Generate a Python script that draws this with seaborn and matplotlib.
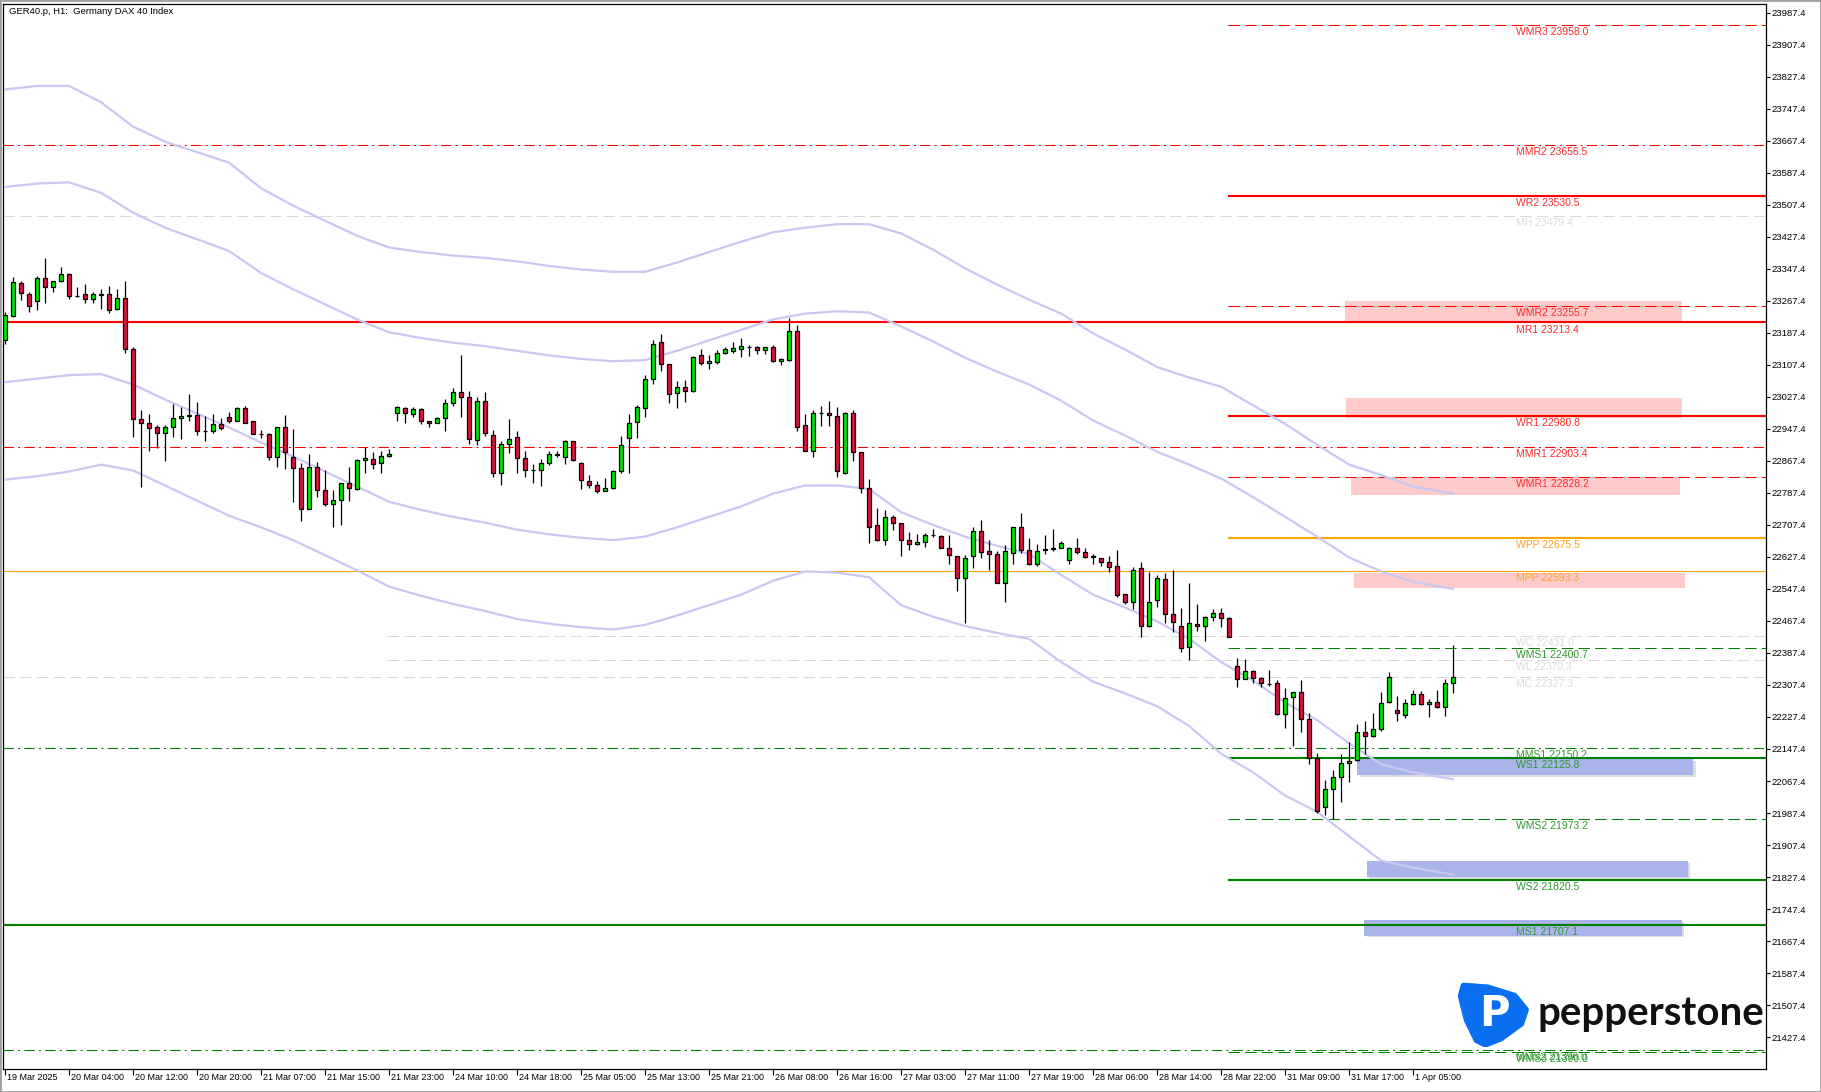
import numpy as np
import matplotlib
matplotlib.use("Agg")
import matplotlib.pyplot as plt
import matplotlib.transforms as mtrans
from matplotlib.patches import Rectangle, Polygon
import seaborn as sns

sns.set_style("white")
plt.rcParams["font.family"] = ["Liberation Sans", "DejaVu Sans"]

# hourly candles GER40
opens = [23170, 23230, 23311, 23284, 23268, 23324, 23301, 23316, 23334, 23280,
         23285, 23271, 23284, 23284, 23246, 23274, 23146, 22973, 22963, 22951,
         22936, 22951, 22975, 22980, 22982, 22942, 22941, 22960, 22976, 22968,
         22999, 22966, 22935, 22935, 22876, 22951, 22878, 22849, 22746, 22851,
         22795, 22759, 22770, 22811, 22796, 22869, 22871, 22861, 22880, 22986,
         22999, 22985, 22996, 22966, 22961, 22974, 23013, 23039, 23026, 22920,
         23016, 22932, 22838, 22909, 22926, 22874, 22845, 22845, 22861, 22883,
         22876, 22916, 22863, 22818, 22806, 22792, 22799, 22841, 22925, 22964,
         22999, 23071, 23164, 23109, 23036, 23051, 23042, 23131, 23111, 23114,
         23136, 23142, 23146, 23153, 23151, 23145, 23151, 23116, 23120, 23193,
         22956, 22893, 22986, 22986, 22980, 22838, 22986, 22889, 22799, 22706,
         22670, 22726, 22711, 22670, 22659, 22664, 22682, 22680, 22651, 22630,
         22574, 22630, 22692, 22642, 22634, 22563, 22638, 22703, 22646, 22609,
         22645, 22648, 22651, 22621, 22651, 22639, 22629, 22624, 22614, 22605,
         22534, 22516, 22599, 22456, 22520, 22572, 22485, 22455, 22402, 22460,
         22455, 22477, 22488, 22474, 22356, 22322, 22342, 22324, 22311, 22312,
         22234, 22277, 22289, 22222, 22126, 22002, 22047, 22078, 22112, 22120,
         22191, 22181, 22197, 22264, 22244, 22232, 22259, 22284, 22260, 22266,
         22252, 22312]
highs = [23240, 23326, 23317, 23290, 23330, 23374, 23318, 23351, 23336, 23303,
         23310, 23289, 23296, 23305, 23296, 23317, 23153, 22995, 22985, 22957,
         22957, 23010, 23003, 23035, 23015, 22980, 22985, 22974, 22990, 23001,
         23005, 22966, 22945, 22936, 22953, 22982, 22946, 22861, 22885, 22865,
         22845, 22795, 22813, 22851, 22871, 22901, 22890, 22891, 22897, 23005,
         23003, 23001, 22999, 22966, 22978, 23022, 23049, 23132, 23042, 23028,
         23039, 22945, 22916, 22972, 22941, 22891, 22860, 22871, 22893, 22891,
         22920, 22917, 22865, 22832, 22816, 22824, 22845, 22930, 22985, 23006,
         23081, 23170, 23185, 23110, 23066, 23070, 23130, 23146, 23132, 23145,
         23151, 23164, 23174, 23157, 23155, 23153, 23157, 23124, 23224, 23207,
         22985, 22995, 23005, 23017, 23001, 22989, 22995, 22890, 22821, 22749,
         22745, 22732, 22712, 22689, 22684, 22686, 22698, 22681, 22681, 22631,
         22632, 22703, 22720, 22670, 22643, 22657, 22703, 22738, 22676, 22659,
         22682, 22696, 22668, 22653, 22676, 22649, 22636, 22626, 22630, 22646,
         22535, 22603, 22616, 22591, 22582, 22588, 22595, 22499, 22562, 22510,
         22480, 22497, 22499, 22477, 22376, 22372, 22345, 22327, 22345, 22320,
         22299, 22291, 22320, 22237, 22138, 22070, 22095, 22135, 22164, 22210,
         22217, 22237, 22289, 22340, 22280, 22272, 22295, 22292, 22272, 22295,
         22322, 22407]
lows = [23160, 23228, 23270, 23240, 23245, 23261, 23290, 23315, 23273, 23278,
        23261, 23263, 23247, 23238, 23245, 23138, 22928, 22803, 22891, 22899,
        22866, 22928, 22923, 22966, 22932, 22917, 22938, 22945, 22961, 22966,
        22961, 22934, 22924, 22870, 22853, 22846, 22764, 22718, 22746, 22778,
        22755, 22703, 22707, 22768, 22795, 22838, 22847, 22838, 22878, 22966,
        22963, 22978, 22959, 22951, 22961, 22943, 23005, 22978, 22910, 22907,
        22930, 22826, 22807, 22886, 22838, 22828, 22813, 22805, 22856, 22878,
        22860, 22868, 22796, 22799, 22788, 22791, 22796, 22838, 22836, 22924,
        22976, 23060, 23093, 23013, 22999, 23014, 23040, 23106, 23096, 23109,
        23135, 23138, 23128, 23130, 23135, 23135, 23115, 23107, 23118, 22941,
        22891, 22878, 22955, 22955, 22826, 22834, 22866, 22786, 22663, 22668,
        22657, 22695, 22631, 22645, 22658, 22653, 22678, 22649, 22611, 22543,
        22462, 22599, 22624, 22596, 22562, 22516, 22611, 22638, 22607, 22606,
        22636, 22642, 22649, 22610, 22636, 22626, 22611, 22606, 22591, 22528,
        22510, 22497, 22428, 22453, 22502, 22462, 22441, 22391, 22370, 22443,
        22418, 22468, 22453, 22428, 22303, 22322, 22313, 22303, 22305, 22232,
        22199, 22156, 22191, 22109, 21988, 21983, 21972, 22016, 22066, 22118,
        22135, 22178, 22193, 22263, 22218, 22224, 22257, 22257, 22228, 22249,
        22230, 22288]
closes = [23232, 23314, 23286, 23255, 23324, 23301, 23316, 23334, 23280, 23279,
          23271, 23284, 23283, 23245, 23274, 23146, 22973, 22963, 22949, 22936,
          22951, 22974, 22980, 22981, 22941, 22941, 22960, 22949, 22968, 22999,
          22963, 22935, 22934, 22876, 22951, 22889, 22849, 22746, 22851, 22795,
          22759, 22770, 22811, 22799, 22870, 22875, 22859, 22880, 22885, 23001,
          22986, 22996, 22966, 22961, 22974, 23011, 23039, 23028, 22921, 23016,
          22936, 22838, 22909, 22921, 22874, 22845, 22844, 22861, 22884, 22884,
          22916, 22870, 22820, 22807, 22791, 22799, 22841, 22906, 22961, 23001,
          23071, 23160, 23109, 23034, 23051, 23041, 23128, 23111, 23117, 23136,
          23146, 23149, 23155, 23152, 23145, 23151, 23116, 23121, 23193, 22953,
          22893, 22986, 22987, 22981, 22841, 22986, 22889, 22799, 22703, 22670,
          22728, 22711, 22670, 22659, 22664, 22681, 22683, 22651, 22632, 22576,
          22626, 22692, 22641, 22634, 22563, 22642, 22701, 22646, 22609, 22643,
          22647, 22649, 22663, 22651, 22639, 22628, 22628, 22614, 22603, 22532,
          22516, 22595, 22456, 22516, 22574, 22485, 22466, 22399, 22462, 22455,
          22478, 22488, 22474, 22428, 22322, 22342, 22324, 22312, 22310, 22234,
          22274, 22289, 22222, 22126, 21993, 22047, 22078, 22112, 22117, 22191,
          22181, 22197, 22263, 22327, 22237, 22262, 22284, 22259, 22266, 22252,
          22312, 22328]

# bands (two upper, two lower), read every 4 bars
band_idx = [0, 4, 8, 12, 16, 20, 24, 28, 32, 36, 40, 44, 48, 52, 56, 60, 64, 68,
            72, 76, 80, 84, 88, 92, 96, 100, 104, 108, 112, 116, 120, 124, 128,
            132, 136, 140, 144, 148, 152, 156, 160, 164, 168, 172, 176, 181]
band_up2 = [23795.8, 23804.5, 23804.5, 23763.9, 23702.9, 23665.2, 23639.1, 23612.9,
            23549.1, 23505.5, 23467.8, 23430.1, 23401.0, 23389.4, 23380.7, 23374.9,
            23366.2, 23354.6, 23345.9, 23340.1, 23340.1, 23363.3, 23389.4, 23415.5,
            23438.8, 23450.4, 23459.1, 23459.1, 23435.9, 23395.2, 23348.8, 23308.1,
            23270.4, 23235.6, 23186.2, 23145.6, 23102.1, 23075.9, 23052.7, 23006.3,
            22959.8, 22907.6, 22858.2, 22832.1, 22803.1, 22785.6]
band_up1 = [23552.0, 23560.7, 23563.6, 23537.5, 23488.1, 23450.4, 23421.4, 23392.3,
            23337.2, 23296.5, 23258.8, 23221.1, 23189.1, 23174.6, 23163.0, 23154.3,
            23142.7, 23131.1, 23122.4, 23116.6, 23119.5, 23142.7, 23168.8, 23194.9,
            23221.1, 23235.6, 23241.4, 23238.5, 23203.6, 23165.9, 23125.3, 23090.4,
            23058.5, 23017.9, 22968.5, 22930.8, 22890.1, 22858.2, 22823.4, 22776.9,
            22727.6, 22678.2, 22626.0, 22591.2, 22565.0, 22547.6]
band_lo1 = [23064.3, 23073.0, 23081.7, 23084.6, 23058.5, 23020.8, 22985.9, 22951.1,
            22913.4, 22878.5, 22840.8, 22803.1, 22765.3, 22745.0, 22727.6, 22713.1,
            22695.7, 22684.0, 22675.3, 22669.5, 22678.2, 22701.5, 22727.6, 22753.7,
            22785.6, 22806.0, 22806.0, 22797.3, 22739.2, 22707.3, 22678.2, 22655.0,
            22634.7, 22582.4, 22533.1, 22501.2, 22466.3, 22422.8, 22364.7, 22318.3,
            22263.1, 22219.6, 22161.5, 22109.3, 22089.0, 22071.6]
band_lo2 = [22820.5, 22829.2, 22840.8, 22858.2, 22843.7, 22806.0, 22768.2, 22730.5,
            22701.5, 22669.5, 22631.8, 22594.1, 22553.4, 22530.2, 22509.9, 22492.5,
            22472.1, 22460.5, 22451.8, 22446.0, 22457.6, 22480.9, 22507.0, 22533.1,
            22567.9, 22591.2, 22588.3, 22576.6, 22507.0, 22477.9, 22454.7, 22437.3,
            22422.8, 22364.7, 22315.4, 22286.4, 22254.4, 22205.1, 22135.4, 22089.0,
            22030.9, 21990.3, 21929.3, 21868.4, 21850.9, 21833.5]

x_tick_pos = list(range(0, 177, 8))
x_tick_labels = ["19 Mar 2025", "20 Mar 04:00", "20 Mar 12:00", "20 Mar 20:00",
                 "21 Mar 07:00", "21 Mar 15:00", "21 Mar 23:00", "24 Mar 10:00",
                 "24 Mar 18:00", "25 Mar 05:00", "25 Mar 13:00", "25 Mar 21:00",
                 "26 Mar 08:00", "26 Mar 16:00", "27 Mar 03:00", "27 Mar 11:00",
                 "27 Mar 19:00", "28 Mar 06:00", "28 Mar 14:00", "28 Mar 22:00",
                 "31 Mar 09:00", "31 Mar 17:00", "1 Apr 05:00"]
y_ticks = [23987.4 - 80 * k for k in range(33)]

# pivot levels
level_names = ["WMR3", "MMR2", "WR2", "MH", "WMR2", "MR1", "WR1", "MMR1", "WMR1",
               "WPP", "MPP", "WC", "WMS1", "WL", "MC", "MMS1", "WS1", "WMS2",
               "WS2", "MS1", "MMS2", "WMS3"]
level_values = [23958.0, 23656.5, 23530.5, 23479.4, 23255.7, 23213.4, 22980.8,
                22903.4, 22828.2, 22675.5, 22593.3, 22431.0, 22400.7, 22370.3,
                22327.3, 22150.2, 22125.8, 21973.2, 21820.5, 21707.1, 21396.0,
                21390.0]
level_kind = ["r_dash", "r_dashdot", "r_solid", "gray", "r_dash", "r_solid", "r_solid",
              "r_dashdot", "r_dash", "o_solid", "o_thin", "gray", "g_dash", "gray",
              "gray", "g_dashdot", "g_solid", "g_dash", "g_solid", "g_solid",
              "g_dashdot", "g_dash"]
# where each line starts: "m" = whole chart, "pw" = previous week, "w" = this week
level_span = ["w", "m", "w", "m", "w", "m", "w", "m", "w", "w", "m", "pw", "w", "pw",
              "m", "m", "w", "w", "w", "m", "m", "w"]

# zones: (x0, x1, y0, y1)
pink_zones = [(167.5, 209.6, 23217.1, 23267.1), (167.6, 209.6, 22973.9, 23025.4),
              (168.2, 209.4, 22782.2, 22826.4), (168.6, 210.0, 22549.8, 22588.0)]
blue_zones = [(169.0, 211.0, 22082.0, 22122.0), (170.2, 210.3, 21827.7, 21866.9),
              (169.9, 209.6, 21680.8, 21720.0)]

RED = "#ff0000"
ORANGE = "#ffa500"
GREEN = "#008000"
GRAY = "#d8d8d8"
styles = {
    "r_dash": dict(color=RED, lw=0.75, dashes=(11, 5)),
    "r_dashdot": dict(color=RED, lw=0.75, dashes=(10, 4, 2, 4)),
    "r_solid": dict(color=RED, lw=1.5),
    "o_solid": dict(color=ORANGE, lw=1.5),
    "o_thin": dict(color=ORANGE, lw=0.75),
    "g_dash": dict(color=GREEN, lw=0.75, dashes=(11, 5)),
    "g_dashdot": dict(color=GREEN, lw=0.75, dashes=(10, 4, 2, 4)),
    "g_solid": dict(color=GREEN, lw=1.5),
    "gray": dict(color=GRAY, lw=0.75, dashes=(11, 5)),
}
label_colors = {"r": "#ff2a2a", "o": "#ffa020", "g": "#2e9a2e", "gray": "#dcdcdc"}

W, H = 1821, 1092
fig = plt.figure(figsize=(W / 100, H / 100), dpi=100)
ax = fig.add_axes([3 / W, 1 - 1069 / H, (1766 - 3) / W, (1069 - 4) / H])
XMIN, XMAX = -0.25, 220.1
ax.set_xlim(XMIN, XMAX)
ax.set_ylim(21347.6, 24009.4)

# zones behind everything
for x0, x1, y0, y1 in pink_zones:
    ax.add_patch(Rectangle((x0, y0), x1 - x0, y1 - y0, facecolor="#ffcaca",
                           edgecolor="none", zorder=1))
for x0, x1, y0, y1 in blue_zones:
    ax.add_patch(Rectangle((x0 + 0.3, y0 - 4), x1 - x0, y1 - y0, facecolor="#dcdcdc",
                           edgecolor="none", zorder=1))
    ax.add_patch(Rectangle((x0, y0), x1 - x0, y1 - y0, facecolor="#aab3ea",
                           edgecolor="none", zorder=1.1))

span_start = {"m": XMIN, "pw": 47.7, "w": 152.8}
LABEL_X = 188.9
for name, val, kind, span in zip(level_names, level_values, level_kind, level_span):
    st = dict(styles[kind])
    ax.plot([span_start[span], XMAX], [val, val], zorder=2, solid_capstyle="butt", **st)
    lc = label_colors["gray" if kind == "gray" else kind[0]]
    ax.annotate(f"{name} {val:.1f}", (LABEL_X, val), xytext=(0, -1.5),
                textcoords="offset points", ha="left", va="top", fontsize=7.5,
                color=lc, zorder=6)

# bands
for band in (band_up2, band_up1, band_lo1, band_lo2):
    sns.lineplot(x=band_idx, y=band, ax=ax, color="#c8c8f2", lw=1.6, sort=False,
                 estimator=None, zorder=3)

# candles
o = np.array(opens, float)
c = np.array(closes, float)
idx = np.arange(len(o))
up = c >= o
ax.vlines(idx, lows, highs, color="black", lw=0.9, zorder=4)
ax.bar(idx[up], (c - o)[up], bottom=o[up], width=0.52, color="#00e600",
       edgecolor="black", linewidth=0.9, zorder=5)
ax.bar(idx[~up], (c - o)[~up], bottom=o[~up], width=0.52, color="#dc143c",
       edgecolor="black", linewidth=0.9, zorder=5)

# axes styling
for s in ax.spines.values():
    s.set_color("black")
    s.set_linewidth(0.9)
ax.yaxis.tick_right()
ax.set_yticks(y_ticks)
ax.set_yticklabels([f"{v:.1f}" for v in y_ticks])
ax.set_xticks(x_tick_pos)
ax.set_xticklabels(x_tick_labels, ha="left")
ax.tick_params(axis="y", direction="out", length=3, width=0.8, pad=1,
               labelsize=6.8, colors="black", right=True, left=False)
ax.tick_params(axis="x", direction="out", length=4, width=0.8, pad=-1,
               labelsize=6.5, colors="black", bottom=True)
shift = mtrans.ScaledTranslation(2 / 100, 0, fig.dpi_scale_trans)
for lab in ax.get_xticklabels():
    lab.set_transform(lab.get_transform() + shift)
ax.set_xlabel("")
ax.set_ylabel("")
ax.grid(False)

ax.text(0.0034, 0.9972, "GER40.p, H1:  Germany DAX 40 Index", transform=ax.transAxes,
        ha="left", va="top", fontsize=6.8, color="black")

# pepperstone logo
lax = fig.add_axes([1458 / W, 1 - 1047 / H, 72 / W, 65 / H])
lax.set_xlim(-0.05, 1.05)
lax.set_ylim(-0.05, 1.05)
lax.axis("off")
shield = [(0.04, 0.98), (0.40, 0.95), (0.81, 0.81), (0.98, 0.58), (0.91, 0.35),
          (0.60, 0.10), (0.37, 0.0), (0.24, 0.07), (0.09, 0.41), (0.0, 0.81)]
lax.add_patch(Polygon(shield, closed=True, facecolor="#0a6ef0", edgecolor="#0a6ef0",
                      lw=5, joinstyle="round"))
lax.text(0.5, 0.5, "P", color="white", fontsize=30, fontweight="bold",
         ha="center", va="center", family=["DejaVu Sans"])
fig.text(1537 / W, 1 - 1025 / H, "pepperstone", fontsize=29, fontweight="bold",
         ha="left", va="baseline", color="#111111", family=["Lato", "DejaVu Sans"])

fig.patches.append(Rectangle((0, 0), 1, 1, transform=fig.transFigure, fill=False,
                             edgecolor="#a0a0a0", lw=2))

fig.savefig("out.png", dpi=100, facecolor="white")
